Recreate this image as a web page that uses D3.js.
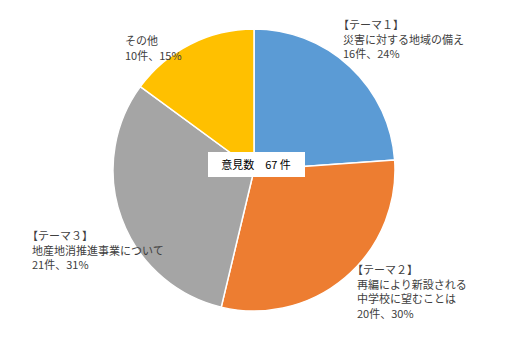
<!DOCTYPE html>
<html><head><meta charset="utf-8">
<script src="https://cdn.jsdelivr.net/npm/d3@7"></script>
<style>html,body{margin:0;padding:0;background:#fff;}svg{display:block;}</style>
</head><body>
<svg id="chart" width="516" height="352"></svg>
<script>
const categories = ["テーマ１", "テーマ２", "テーマ３", "その他"];
const labelLines = [
  ["【テーマ１】", " 災害に対する地域の備え"],
  ["【テーマ２】", " 再編により新設される", " 中学校に望むことは"],
  ["【テーマ３】", " 地産地消推進事業について"],
  ["その他"]
];
const counts = [16, 20, 21, 10];
const percents = [24, 30, 31, 15];
const colors = ["#5B9BD5", "#ED7D31", "#A5A5A5", "#FFC000"];
const totalLabel = "意見数　67 件";

const svg = d3.select("#chart");
const cx = 254, cy = 170, r = 141;
const g = svg.append("g").attr("transform", `translate(${cx},${cy})`);
const pie = d3.pie().sort(null).value(d => d)(counts);
const arc = d3.arc().innerRadius(0).outerRadius(r);
g.selectAll("path").data(pie).join("path")
  .attr("d", arc)
  .attr("fill", (d, i) => colors[i])
  .attr("stroke", "#fff").attr("stroke-width", 1.5);

// center box
const bw = 97, bh = 25;
g.append("rect").attr("x", -46).attr("y", -18).attr("width", bw).attr("height", bh).attr("fill", "#fff");
g.append("text").attr("x", 2).attr("y", -1).attr("text-anchor", "middle")
  .attr("font-family", "'Noto Sans CJK JP', sans-serif").attr("font-size", 11)
  .attr("fill", "#000").style("white-space", "pre").text(totalLabel);

// label positions (layout)
const labelPos = [[338, 29], [352, 274], [27, 240], [125, 45]];
const lh = 14.5;
labelLines.forEach((lines, i) => {
  const all = lines.concat([`${counts[i]}件、${percents[i]}%`]);
  const t = svg.append("text")
    .attr("font-family", "'Noto Sans CJK JP', sans-serif").attr("font-size", 11)
    .attr("fill", "#404040").style("white-space", "pre");
  all.forEach((s, j) => {
    const indent = (lines[0].startsWith("【") && j > 0) ? 5 : 0;
    t.append("tspan").attr("x", labelPos[i][0] + indent).attr("y", labelPos[i][1] + j * lh).text(s.trim());
  });
});
</script>
</body></html>
